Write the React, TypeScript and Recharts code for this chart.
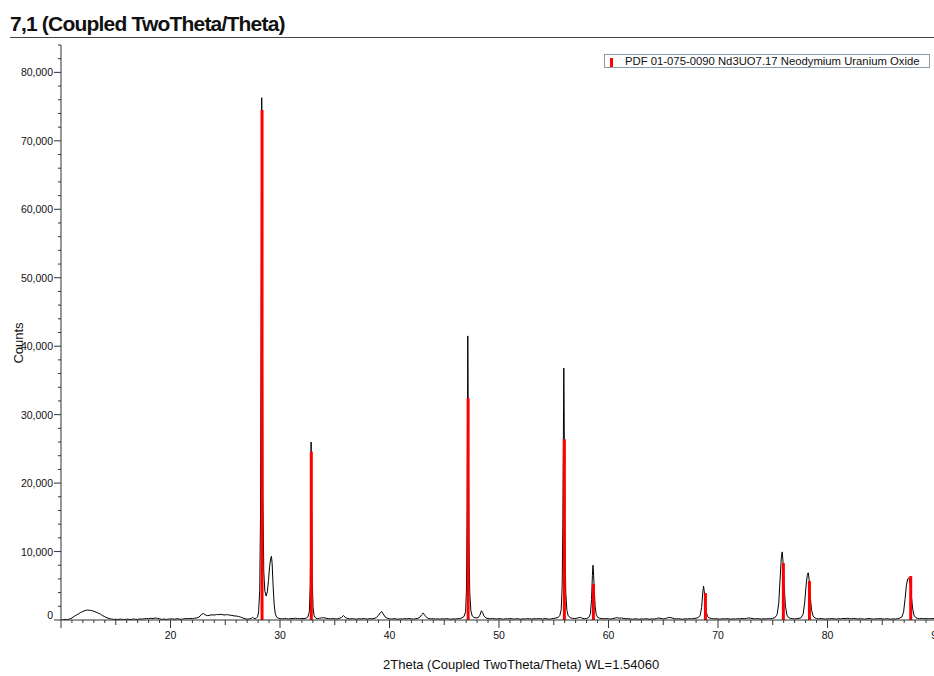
import { ComposedChart, Line, XAxis, YAxis, ReferenceLine } from 'recharts';

// scan, split into angular ranges: [2theta, counts]
const scanLow: [number, number][] = [
  [10.05, 20], [10.2, 40], [10.4, 90], [10.6, 60], [10.8, 150], [11.0, 300], [11.2, 520], [11.4, 720],
  [11.6, 900], [11.8, 1100], [12.0, 1250], [12.2, 1380], [12.4, 1460], [12.6, 1420], [12.8, 1380],
  [13.0, 1280], [13.2, 1150], [13.4, 1000], [13.6, 860], [13.8, 640], [14.0, 480], [14.2, 330],
  [14.4, 200], [14.6, 150], [14.8, 90], [15.0, 110], [15.2, 60], [15.4, 130], [15.6, 90], [15.8, 70],
  [16.0, 120], [16.2, 100], [16.4, 60], [16.6, 140], [16.8, 110], [17.0, 90], [17.2, 160], [17.4, 130],
  [17.6, 170], [17.8, 220], [18.0, 200], [18.2, 250], [18.4, 210], [18.6, 290], [18.8, 240], [19.0, 180],
  [19.2, 90], [19.4, 140], [19.6, 80], [19.8, 120], [20.0, 180], [20.2, 150], [20.4, 110], [20.6, 190],
  [20.8, 140], [21.0, 100], [21.2, 170], [21.4, 210], [21.6, 180], [21.8, 240], [22.0, 200], [22.2, 260],
  [22.4, 300], [22.6, 420], [22.8, 780], [23.0, 950], [23.2, 720], [23.4, 640], [23.6, 700], [23.8, 760],
  [24.0, 720], [24.2, 800], [24.4, 780], [24.6, 830], [24.8, 760], [25.0, 740], [25.2, 790], [25.4, 700],
  [25.6, 680], [25.8, 600], [26.0, 580], [26.2, 520], [26.4, 430], [26.6, 300], [26.8, 180], [27.0, 120],
  [27.2, 150], [27.4, 260], [27.5, 380], [27.6, 250], [27.8, 200],
];

const scan28to34: [number, number][] = [
  [27.95, 450], [28.05, 1200], [28.15, 4500], [28.22, 15000], [28.28, 45000], [28.33, 76300],
  [28.38, 52000], [28.44, 18000], [28.52, 7000], [28.62, 4200], [28.74, 3500], [28.85, 4200],
  [28.95, 5800], [29.05, 7800], [29.15, 9000], [29.22, 9300], [29.28, 8300], [29.37, 5000], [29.47, 2200],
  [29.57, 900], [29.7, 400], [29.85, 250], [30.0, 200], [30.2, 150], [30.4, 230], [30.6, 180], [30.8, 140],
  [31.0, 220], [31.2, 190], [31.4, 260], [31.6, 200], [31.8, 170], [32.0, 230], [32.2, 200], [32.4, 280],
  [32.55, 450], [32.68, 1200], [32.76, 5000], [32.81, 14000], [32.84, 26000], [32.88, 17000],
  [32.94, 6000], [33.02, 1800], [33.12, 600], [33.25, 300], [33.4, 200], [33.6, 240], [33.8, 300],
  [34.0, 340],
];

const scan34to46: [number, number][] = [
  [34.2, 260], [34.4, 200], [34.6, 160], [34.8, 220], [35.0, 180], [35.2, 150], [35.4, 230], [35.6, 350],
  [35.8, 650], [36.0, 340], [36.2, 190], [36.4, 150], [36.6, 200], [36.8, 160], [37.0, 120], [37.2, 190],
  [37.4, 150], [37.6, 210], [37.8, 170], [38.0, 140], [38.2, 200], [38.4, 160], [38.6, 230], [38.8, 350],
  [39.0, 700], [39.15, 1050], [39.28, 1250], [39.42, 900], [39.6, 450], [39.8, 250], [40.0, 180],
  [40.2, 130], [40.4, 200], [40.6, 150], [40.8, 110], [41.0, 180], [41.2, 140], [41.4, 200], [41.6, 160],
  [41.8, 220], [42.0, 170], [42.2, 130], [42.4, 190], [42.6, 250], [42.8, 450], [42.95, 800],
  [43.08, 1000], [43.22, 700], [43.4, 350], [43.6, 200], [43.8, 150], [44.0, 190], [44.2, 130],
  [44.4, 170], [44.6, 120], [44.8, 180], [45.0, 140], [45.2, 200], [45.4, 160], [45.6, 110], [45.8, 170],
  [46.0, 140],
];

const scan46to60: [number, number][] = [
  [46.2, 190], [46.4, 230], [46.6, 300], [46.8, 500], [46.95, 1200], [47.03, 4500], [47.09, 16000],
  [47.13, 32000], [47.15, 41500], [47.19, 30000], [47.25, 12000], [47.33, 4000], [47.43, 1400],
  [47.55, 600], [47.7, 400], [47.9, 300], [48.1, 350], [48.25, 700], [48.4, 1350], [48.5, 1100],
  [48.62, 600], [48.8, 300], [49.0, 220], [49.2, 170], [49.4, 230], [49.6, 180], [49.8, 140], [50.0, 200],
  [50.2, 160], [50.4, 120], [50.6, 190], [50.8, 150], [51.0, 210], [51.2, 170], [51.4, 130], [51.6, 200],
  [51.8, 160], [52.0, 110], [52.2, 180], [52.4, 140], [52.6, 210], [52.8, 170], [53.0, 130], [53.2, 190],
  [53.4, 150], [53.6, 220], [53.8, 180], [54.0, 140], [54.2, 200], [54.4, 160], [54.6, 120], [54.8, 190],
  [55.0, 230], [55.2, 280], [55.4, 380], [55.55, 650], [55.68, 1500], [55.77, 5000], [55.83, 14000],
  [55.88, 27000], [55.92, 36800], [55.96, 28000], [56.02, 12000], [56.1, 4000], [56.2, 1400],
  [56.32, 600], [56.5, 350], [56.7, 250], [56.9, 200], [57.1, 260], [57.3, 350], [57.45, 380],
  [57.6, 250], [57.8, 200], [58.0, 230], [58.2, 350], [58.35, 900], [58.45, 3000], [58.53, 6500],
  [58.58, 8000], [58.63, 7000], [58.7, 4500], [58.78, 2000], [58.88, 800], [59.0, 400], [59.2, 250],
  [59.4, 200], [59.6, 160], [59.8, 220], [60.0, 180],
];

const scanHigh: [number, number][] = [
  [60.2, 140], [60.4, 210], [60.6, 280], [60.8, 330], [61.0, 260], [61.2, 300], [61.4, 220], [61.6, 160],
  [61.8, 200], [62.0, 150], [62.2, 110], [62.4, 180], [62.6, 140], [62.8, 100], [63.0, 170], [63.2, 130],
  [63.4, 190], [63.6, 150], [63.8, 110], [64.0, 170], [64.2, 140], [64.4, 230], [64.6, 300], [64.8, 220],
  [65.0, 160], [65.2, 210], [65.4, 330], [65.6, 380], [65.8, 300], [66.0, 200], [66.2, 150], [66.4, 190],
  [66.6, 140], [66.8, 110], [67.0, 180], [67.2, 150], [67.4, 200], [67.6, 160], [67.8, 220], [68.0, 260],
  [68.2, 350], [68.38, 700], [68.5, 1800], [68.6, 3800], [68.68, 4950], [68.74, 4300], [68.82, 2800],
  [68.92, 1200], [69.05, 500], [69.2, 300], [69.4, 220], [69.6, 160], [69.8, 200], [70.0, 150],
  [70.2, 120], [70.4, 190], [70.6, 140], [70.8, 200], [71.0, 160], [71.2, 120], [71.4, 180], [71.6, 140],
  [71.8, 200], [72.0, 160], [72.2, 220], [72.4, 180], [72.6, 240], [72.8, 300], [73.0, 260], [73.2, 200],
  [73.4, 160], [73.6, 210], [73.8, 170], [74.0, 130], [74.2, 190], [74.4, 150], [74.6, 210], [74.8, 180],
  [75.0, 250], [75.2, 350], [75.4, 800], [75.55, 2500], [75.67, 6000], [75.78, 9000], [75.86, 9950],
  [75.94, 8500], [76.04, 5000], [76.16, 2000], [76.3, 700], [76.45, 350], [76.6, 250], [76.8, 200],
  [77.0, 160], [77.2, 210], [77.4, 240], [77.6, 350], [77.78, 900], [77.92, 2600], [78.04, 5000],
  [78.15, 6500], [78.24, 6900], [78.32, 6000], [78.42, 3600], [78.54, 1500], [78.68, 600], [78.85, 300],
  [79.0, 220], [79.2, 160], [79.4, 210], [79.6, 170], [79.8, 130], [80.0, 190], [80.2, 150], [80.4, 210],
  [80.6, 170], [80.8, 130], [81.0, 200], [81.2, 160], [81.4, 230], [81.6, 190], [81.8, 250], [82.0, 210],
  [82.2, 170], [82.4, 230], [82.6, 180], [82.8, 140], [83.0, 200], [83.2, 160], [83.4, 120], [83.6, 180],
  [83.8, 220], [84.0, 170], [84.2, 130], [84.4, 190], [84.6, 150], [84.8, 210], [85.0, 170], [85.2, 130],
  [85.4, 190], [85.6, 150], [85.8, 110], [86.0, 170], [86.2, 140], [86.4, 200], [86.6, 280], [86.8, 450],
  [86.95, 1200], [87.08, 3000], [87.2, 5000], [87.32, 6000], [87.44, 6150], [87.55, 5400], [87.66, 3500],
  [87.78, 1600], [87.9, 700], [88.05, 350], [88.2, 250], [88.4, 190], [88.6, 230], [88.8, 170],
  [89.0, 210], [89.2, 160], [89.4, 220], [89.6, 180], [89.8, 240], [90.0, 190],
];

// PDF 01-075-0090 reference lines: [2theta, intensity]
const pdfSticks: [number, number][] = [
  [28.36, 74500], [32.86, 24600], [47.18, 32400], [55.97, 26400], [58.62, 5250],
  [68.85, 3940], [75.97, 8320], [78.35, 5690], [87.6, 6420],
];

const xTicks: number[] = [];
for (let t = 10; t <= 90; t++) xTicks.push(t);
const yTicks: number[] = [];
for (let c = 0; c <= 84000; c += 2000) yTicks.push(c);

const scan = [...scanLow, ...scan28to34, ...scan34to46, ...scan46to60, ...scanHigh].map(([t, c]) => ({ t, c }));

const FONT = '"Liberation Sans", Arial, sans-serif';
const AXIS = '#333';

function XTick(props: any) {
  const { x, y, payload } = props;
  const v = payload.value;
  const len = v % 10 === 0 ? 8 : v % 5 === 0 ? 5 : 3;
  return (
    <g>
      <line x1={x} x2={x} y1={y} y2={y + len} stroke={AXIS} />
      {v % 10 === 0 && v > 10 && (
        <text x={x} y={y + 19} textAnchor="middle" fontSize={10.5} fill="#111" fontFamily={FONT}>{v}</text>
      )}
    </g>
  );
}

function YTick(props: any) {
  const { x, y, payload } = props;
  const v = payload.value;
  const major = v % 10000 === 0;
  return (
    <g>
      <line x1={x - (major ? 7 : 3)} x2={x} y1={y} y2={y} stroke={AXIS} />
      {major && (
        <text x={x - 8} y={v === 0 ? y - 1 : y + 4} textAnchor="end" fontSize={10.5} fill="#111" fontFamily={FONT}>
          {v.toLocaleString('en-US')}
        </text>
      )}
    </g>
  );
}

export default function App() {
  return (
    <div style={{ position: 'absolute', left: 0, top: 0, width: 934, height: 676, overflow: 'hidden', background: '#fff', fontFamily: FONT, color: '#111' }}>
      <div style={{ position: 'absolute', left: 10, top: 11, fontSize: 21, fontWeight: 'bold', lineHeight: '26px', letterSpacing: -0.8, whiteSpace: 'nowrap' }}>
        7,1 (Coupled TwoTheta/Theta)
      </div>
      <div style={{ position: 'absolute', left: 10, top: 37, width: 924, height: 1, background: '#444' }} />

      <ComposedChart width={960} height={676} data={scan} margin={{ top: 45, right: 23, bottom: 26, left: 0 }}>
        <XAxis
          dataKey="t"
          type="number"
          domain={[10, 90]}
          allowDataOverflow
          ticks={xTicks}
          interval={0}
          tickSize={0}
          tickMargin={0}
          tickLine={false}
          tick={<XTick />}
          height={30}
          axisLine={{ stroke: AXIS }}
        />
        <YAxis
          type="number"
          domain={[0, 84000]}
          allowDataOverflow
          ticks={yTicks}
          interval={0}
          tickSize={0}
          tickMargin={0}
          tickLine={false}
          tick={<YTick />}
          width={61}
          axisLine={{ stroke: AXIS }}
        />
        <Line dataKey="c" type="linear" stroke="#000" strokeWidth={1} dot={false} isAnimationActive={false} />
        {pdfSticks.map(([t, h]) => (
          <ReferenceLine
            key={t}
            segment={[{ x: t, y: 0 }, { x: t, y: h }]}
            stroke="#ff0000"
            strokeWidth={3}
          />
        ))}
      </ComposedChart>

      <div style={{ position: 'absolute', left: 18, top: 343, transform: 'translate(-50%, -50%) rotate(-90deg)', fontSize: 13, whiteSpace: 'nowrap' }}>
        Counts
      </div>
      <div style={{ position: 'absolute', left: 383, top: 657, fontSize: 13, lineHeight: '16px', whiteSpace: 'nowrap' }}>
        2Theta (Coupled TwoTheta/Theta) WL=1.54060
      </div>

      <div style={{ position: 'absolute', left: 604, top: 54, width: 326, height: 14, boxSizing: 'border-box', border: '1px solid #8c9cab', background: '#fff' }}>
        <div style={{ position: 'absolute', left: 5, top: 3, width: 3, height: 9, background: '#ff0000' }} />
        <div style={{ position: 'absolute', left: 20, top: -1, fontSize: 11.3, lineHeight: '14px', whiteSpace: 'nowrap' }}>
          PDF 01-075-0090 Nd3UO7.17 Neodymium Uranium Oxide
        </div>
      </div>
    </div>
  );
}
